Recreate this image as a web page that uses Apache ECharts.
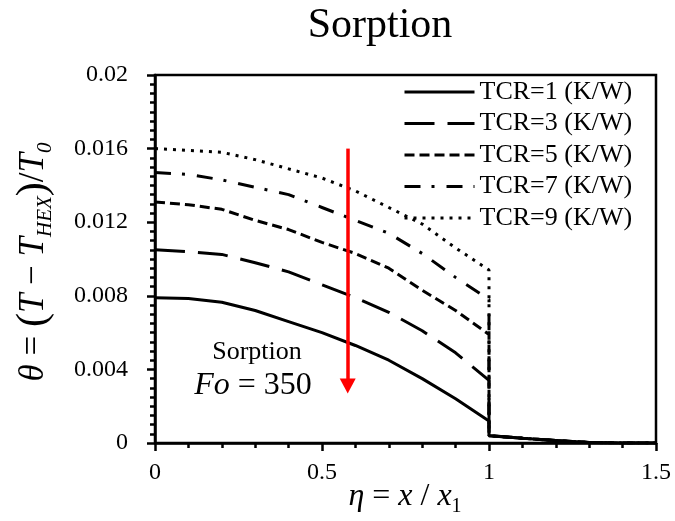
<!DOCTYPE html>
<html>
<head>
<meta charset="utf-8">
<script src="https://cdn.jsdelivr.net/npm/echarts@6/dist/echarts.min.js"></script>
<style>
  html, body { margin: 0; padding: 0; background: #fff; }
  #chart { width: 675px; height: 521px; }
</style>
</head>
<body>
<div id="chart"></div>
<script>
// profiles theta vs eta, Fo = 350, sorption
const etaValues = [0, 0.1, 0.2, 0.3, 0.4, 0.5, 0.6, 0.7, 0.8, 0.9, 1.0, 1.0, 1.1, 1.2, 1.3, 1.4, 1.5];

const tcr1 = [0.0079, 0.00785, 0.00765, 0.0072, 0.0066, 0.0060, 0.0053, 0.0045, 0.0035, 0.0024, 0.0012];
const tcr3 = [0.0105, 0.0104, 0.01025, 0.0098, 0.0093, 0.0086, 0.0079, 0.0071, 0.0061, 0.0049, 0.0034];
const tcr5 = [0.0131, 0.01295, 0.0127, 0.0121, 0.0116, 0.0109, 0.0103, 0.0095, 0.0083, 0.0072, 0.0059];
const tcr7 = [0.0147, 0.0146, 0.0143, 0.0139, 0.0135, 0.0128, 0.0121, 0.0114, 0.0103, 0.0090, 0.0078];
const tcr9 = [0.0160, 0.0159, 0.0158, 0.0154, 0.0149, 0.0144, 0.0137, 0.0128, 0.0119, 0.0106, 0.0094];
// part after eta = 1, the same for all curves
const tail = [0.0004, 0.00026, 0.00013, 0.00003, 0, 0];

const seriesNames = ['TCR=1 (K/W)', 'TCR=3 (K/W)', 'TCR=5 (K/W)', 'TCR=7 (K/W)', 'TCR=9 (K/W)'];
const xTicks = [0, 0.5, 1, 1.5];

// red arrow
const arrowX = 0.577;
const arrowTop = 0.0160;
const arrowEnd = 0.0031;

const serif = '"Liberation Serif", "Times New Roman", serif';

function toPoints(vals) {
    const all = vals.concat(tail);
    return etaValues.map((x, i) => [x, all[i]]);
}

const dashes = ['solid', [30, 13], [10, 5], [16, 11, 3, 12], [3, 6]];
const curves = [tcr1, tcr3, tcr5, tcr7, tcr9];

const series = curves.map((c, i) => ({
    name: seriesNames[i],
    type: 'line',
    data: toPoints(c),
    symbol: 'none',
    showSymbol: false,
    color: '#000',
    lineStyle: { color: '#000', width: 3, type: dashes[i] },
    emphasis: { disabled: true }
}));

series[0].markLine = {
    silent: true,
    symbol: ['none', 'triangle'],
    symbolSize: [16, 15],
    label: { show: false },
    lineStyle: { color: '#ff0000', width: 3.5, type: 'solid' },
    itemStyle: { color: '#ff0000' },
    data: [[{ coord: [arrowX, arrowTop] }, { coord: [arrowX, arrowEnd] }]]
};

const chart = echarts.init(document.getElementById('chart'));
chart.setOption({
    animation: false,
    textStyle: { fontFamily: serif, color: '#000' },
    grid: {
        left: 155, right: 19, top: 75, bottom: 78,
        show: true, borderColor: '#000', borderWidth: 2.5
    },
    legend: {
        data: seriesNames,
        orient: 'vertical',
        left: 403,
        top: 79,
        padding: 0,
        itemWidth: 70,
        itemHeight: 14,
        itemGap: 5.5,
        itemStyle: { opacity: 0 },
        lineStyle: { width: 3 },
        textStyle: { fontFamily: serif, fontSize: 26, color: '#000', lineHeight: 26 }
    },
    xAxis: {
        type: 'value',
        min: 0, max: 1.5, interval: 0.5,
        axisLine: { lineStyle: { color: '#000', width: 2.5 } },
        axisTick: { length: 8, lineStyle: { color: '#000', width: 2.5 } },
        minorTick: { show: true, splitNumber: 5, length: 5, lineStyle: { color: '#000', width: 2.5 } },
        splitLine: { show: false },
        axisLabel: {
            margin: 18, fontSize: 24, color: '#000', fontFamily: serif,
            formatter: v => xTicks.includes(+v.toFixed(2)) ? String(+v.toFixed(2)) : ''
        }
    },
    yAxis: {
        type: 'value',
        min: 0, max: 0.02, interval: 0.004,
        axisLine: { show: true, lineStyle: { color: '#000', width: 2.5 } },
        axisTick: { show: true, length: 8, lineStyle: { color: '#000', width: 2.5 } },
        minorTick: { show: true, splitNumber: 8, length: 5, lineStyle: { color: '#000', width: 2.5 } },
        splitLine: { show: false },
        axisLabel: {
            margin: 27, fontSize: 24, color: '#000', fontFamily: serif,
            formatter: v => String(+v.toFixed(3))
        }
    },
    graphic: [
        {
            type: 'text', x: 380, y: 26,
            style: { text: 'Sorption', font: '42px ' + serif, fill: '#000', align: 'center', verticalAlign: 'middle' }
        },
        {
            type: 'text', x: 257, y: 352,
            style: { text: 'Sorption', font: '26px ' + serif, fill: '#000', align: 'center', verticalAlign: 'middle' }
        },
        {
            type: 'text', x: 253, y: 386,
            style: {
                text: '{i|Fo}{n| = 350}',
                align: 'center', verticalAlign: 'middle',
                rich: {
                    i: { fontFamily: serif, fontSize: 32, fontStyle: 'italic', fill: '#000' },
                    n: { fontFamily: serif, fontSize: 32, fill: '#000' }
                }
            }
        },
        {
            type: 'text', x: 405, y: 497,
            style: {
                text: '{i|η}{n| = }{i|x}{n| / }{i|x}{s|1}',
                align: 'center', verticalAlign: 'middle',
                rich: {
                    i: { fontFamily: serif, fontSize: 32, fontStyle: 'italic', fill: '#000', lineHeight: 40 },
                    n: { fontFamily: serif, fontSize: 32, fill: '#000', lineHeight: 40 },
                    s: { fontFamily: serif, fontSize: 20, fill: '#000', lineHeight: 20, verticalAlign: 'bottom' }
                }
            }
        },
        {
            type: 'text', x: 34, y: 262, rotation: Math.PI / 2,
            style: {
                text: '{i|θ}{n| = }{p|(}{i|T}{n| − }{i|T}{s|HEX}{p|)}{n|/}{i|T}{s|0}',
                align: 'center', verticalAlign: 'middle',
                rich: {
                    i: { fontFamily: serif, fontSize: 35, fontStyle: 'italic', fill: '#000', lineHeight: 44 },
                    n: { fontFamily: serif, fontSize: 35, fill: '#000', lineHeight: 44 },
                    p: { fontFamily: serif, fontSize: 42, fill: '#000', lineHeight: 44 },
                    s: { fontFamily: serif, fontSize: 21, fontStyle: 'italic', fill: '#000', lineHeight: 22, verticalAlign: 'bottom' }
                }
            }
        }
    ],
    series: series
});
</script>
</body>
</html>
